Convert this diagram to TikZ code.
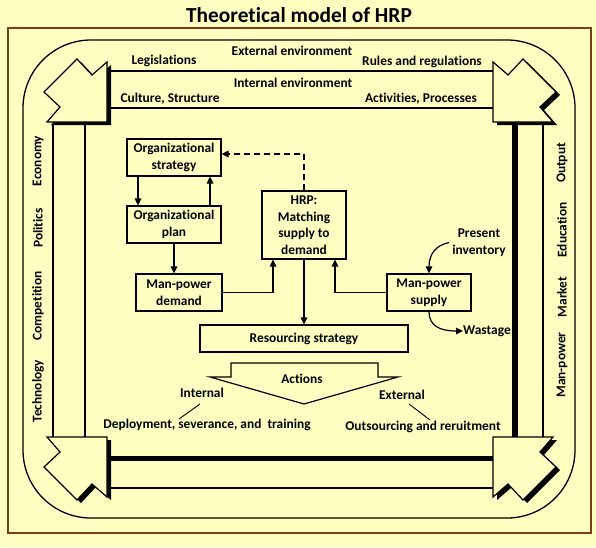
\documentclass[tikz,border=0pt]{standalone}
\usepackage{fontspec}
\setmainfont{Carlito}[Ligatures=NoCommon]
\usetikzlibrary{arrows.meta}
\definecolor{bg}{RGB}{255,255,194}
\definecolor{framebrown}{RGB}{125,62,22}
\begin{document}
\begin{tikzpicture}[x=1pt,y=-1pt,
  font=\fontsize{13.4}{16.5}\selectfont\bfseries,
  box/.style={draw, line width=1.2pt, fill=bg, align=center, inner sep=0pt},
  lbl/.style={inner sep=0pt, align=center},
  arr/.style={line width=1.2pt, -{Triangle[length=7pt,width=6.5pt]}},
  thinline/.style={line width=1.4pt},
  thickline/.style={line width=5.5pt},
  cornershape/.style={draw=black, line width=1.2pt, fill=bg, line join=miter}]
\useasboundingbox (0,0) rectangle (596,547);
\fill[bg] (0,0) rectangle (596,547);
% title
\node[lbl, font=\fontsize{21.4}{24}\selectfont\bfseries] (title) at (299,15) {Theoretical model of HRP};
% frames
\draw[framebrown, line width=1.6pt] (8,28) rectangle (591,533);
\draw[line width=1.3pt, rounded corners=68pt] (23,40) rectangle (575,518);
% loop lines
\draw[thinline] (110,71) -- (493,71);
\draw[thinline] (110,108) -- (493,108);
\draw[thinline] (53,125) -- (53,437);
\draw[thinline] (85,125) -- (85,437);
\draw[thickline] (515,125) -- (515,437);
\draw[thinline] (543,125) -- (543,437);
\draw[thickline] (110,458.5) -- (493,458.5);
\draw[thinline] (110,488) -- (493,488);
% corner shapes
\foreach \ox/\oy/\sx/\sy in {47/62/1/1, 553/62/-1/1, 47/497/1/-1, 553/497/-1/-1}{
  \begin{scope}[shift={(\ox+4,\oy+3)}, xscale=\sx, yscale=\sy]
    \fill[black] (0,60) -- (13,45) -- (-3,30) -- (30,-3) -- (45,13) -- (60,0) -- (60,60) -- cycle;
  \end{scope}
  \begin{scope}[shift={(\ox,\oy)}, xscale=\sx, yscale=\sy]
    \draw[cornershape] (0,60) -- (13,45) -- (-3,30) -- (30,-3) -- (45,13) -- (60,0) -- (60,60) -- cycle;
  \end{scope}
}
% top texts
\node[lbl] (ext) at (292,51) {External environment};
\node[lbl] (int) at (293,83) {Internal environment};
\node[lbl] (legis) at (164,61) {Legislations};
\node[lbl] (rules) at (422,62) {Rules and regulations};
\node[lbl] (cult) at (170,99) {Culture, Structure};
\node[lbl] (activ) at (421,99) {Activities, Processes};
% side labels
\node[lbl, rotate=90] (econ) at (38,161) {Economy};
\node[lbl, rotate=90] (polit) at (38,228) {Politics};
\node[lbl, rotate=90] (compet) at (38,306) {Competition};
\node[lbl, rotate=90] (techn) at (38,391) {Technology};
\node[lbl, rotate=90] (outp) at (562,163) {Output};
\node[lbl, rotate=90] (educ) at (562,230) {Education};
\node[lbl, rotate=90] (markt) at (562,297) {Market};
\node[lbl, rotate=90] (manp) at (562,365) {Man-power};
% boxes
\node[box, minimum width=94pt, minimum height=37pt] (strat) at (174,157.5) {Organizational\\strategy};
\node[box, minimum width=94pt, minimum height=37pt] (plan) at (174,224.5) {Organizational\\plan};
\node[box, minimum width=86pt, minimum height=37pt] (demand) at (179,292.5) {Man-power\\demand};
\node[box, minimum width=84pt, minimum height=68pt] (hrp) at (304,225) {HRP:\\Matching\\supply to\\demand};
\node[box, minimum width=84pt, minimum height=37pt] (supply) at (429,292.5) {Man-power\\supply};
\node[box, minimum width=208pt, minimum height=27pt] (res) at (304,338.5) {Resourcing strategy};
\node[lbl] (pi) at (479,242.5) {Present\\inventory};
\node[lbl, anchor=west] (waste) at (463,331) {Wastage};
% connectors
\draw[arr] ([xshift=-36pt]strat.south) -- ([xshift=-36pt]plan.north);
\draw[arr] ([xshift=36pt]plan.north) -- ([xshift=36pt]strat.south);
\draw[arr] (plan.south) -- (plan.south |- demand.north);
\draw[arr, dash pattern=on 6pt off 4pt, line width=1.4pt] (hrp.north) |- ([yshift=3.5pt]strat.east);
\draw[arr] (demand.east) -| ([xshift=-31pt]hrp.south);
\draw[arr] (supply.west) -| ([xshift=31pt]hrp.south);
\draw[arr] (hrp.south) -- (res.north);
\draw[arr] ([xshift=-3pt]pi.west) .. controls (436,245) and (429,254) .. (supply.north);
\draw[arr] (supply.south) .. controls (429,326) and (440,331) .. (waste.west);
% actions arrow
\coordinate (a1) at (231,363);
\coordinate (a2) at (378,363);
\coordinate (a3) at (378,377);
\coordinate (a4) at (398,377);
\coordinate (a5) at (304,404);
\coordinate (a6) at (210,377);
\coordinate (a7) at (231,377);
\draw[line width=1.2pt, fill=bg, line join=miter] (a1) -- (a2) -- (a3) -- (a4) -- (a5) -- (a6) -- (a7) -- cycle;
\node[lbl] (actions) at (302,379) {Actions};
\node[lbl] (internal) at (202,393) {Internal};
\node[lbl] (external) at (402,395) {External};
\node[lbl] (deploy) at (207,425) {Deployment, severance, and~~training};
\node[lbl] (outs) at (423,427) {Outsourcing and reruitment};
\coordinate (i1) at (200,404);
\coordinate (i2) at (179,419);
\coordinate (e1) at (409,404);
\coordinate (e2) at (430,420);
\draw[line width=0.9pt] (i1) -- (i2);
\draw[line width=0.9pt] (e1) -- (e2);
\end{tikzpicture}
\end{document}
